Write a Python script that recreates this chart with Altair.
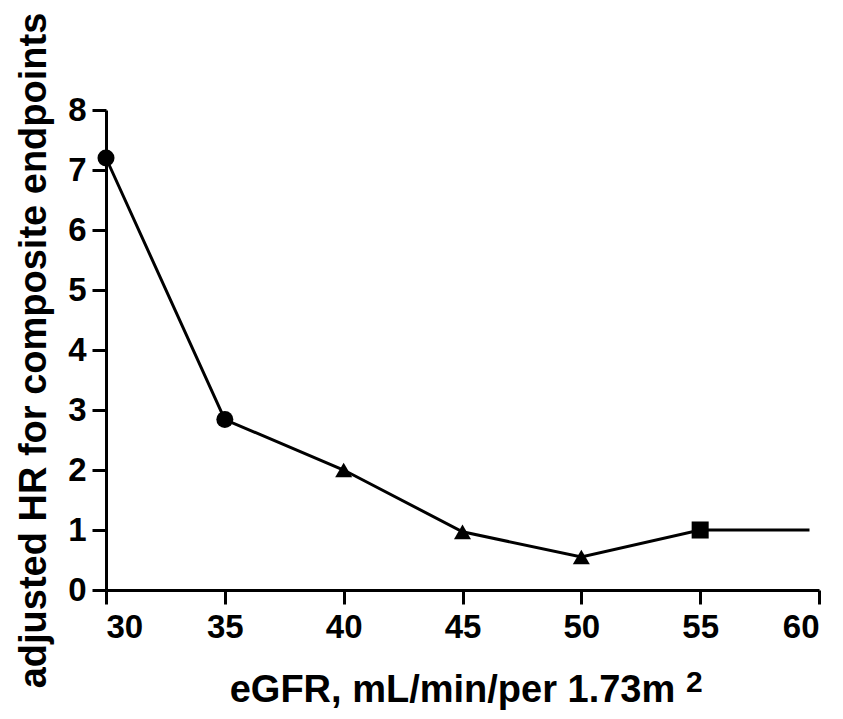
import altair as alt
import pandas as pd

egfr = [30, 35, 40, 45, 50, 55, 59.6]
hr = [7.2, 2.84, 2.0, 0.97, 0.55, 1.0, 1.0]
group = ["circle", "circle", "triangle", "triangle", "triangle", "square", "none"]
x_ticks = [30, 35, 40, 45, 50, 55, 60]
y_ticks = [0, 1, 2, 3, 4, 5, 6, 7, 8]

df = pd.DataFrame({"egfr": egfr, "hr": hr, "group": group})

FONT = "Liberation Sans"

x = alt.X("egfr:Q", scale=alt.Scale(domain=[30, 60], nice=False, zero=False),
          axis=alt.Axis(values=x_ticks, title="eGFR, mL/min/per 1.73m",
                        titlePadding=27, titleX=346, titleFontSize=38))
y = alt.Y("hr:Q", scale=alt.Scale(domain=[0, 8], nice=False),
          axis=alt.Axis(values=y_ticks, title="adjusted HR for composite endpoints",
                        titlePadding=14, titleFontSize=38))

line = alt.Chart(df).mark_line(color="black", strokeWidth=3).encode(x=x, y=y)

pts = alt.Chart(df).transform_filter(alt.datum.group != "none").mark_point(
    filled=True, color="black", opacity=1, size=290
).encode(
    x=x, y=y,
    shape=alt.Shape("group:N", scale=alt.Scale(domain=["circle", "triangle", "square"],
                                               range=["circle", "triangle-up", "square"]),
                    legend=None),
)

sup = alt.Chart(pd.DataFrame({"t": ["2"]})).mark_text(
    font=FONT, fontWeight="bold", fontSize=30, color="black", align="left", baseline="alphabetic"
).encode(x=alt.value(580), y=alt.value(582), text="t:N")

chart = (line + pts + sup).properties(
    width=713, height=480,
    autosize=alt.AutoSizeParams(type="none"),
    padding={"left": 98, "top": 102, "right": 15, "bottom": 121},
).configure_view(stroke=None).configure_axis(
    grid=False,
    domainColor="black", domainWidth=3,
    tickColor="black", tickWidth=3, tickSize=14,
    labelFont=FONT, labelFontWeight="bold", labelFontSize=33, labelColor="black",
    titleFont=FONT, titleFontWeight="bold", titleColor="black",
).configure_axisX(labelPadding=7).configure_axisY(labelPadding=6)

chart.save("out.html", embed_options={"renderer": "svg", "actions": False})
